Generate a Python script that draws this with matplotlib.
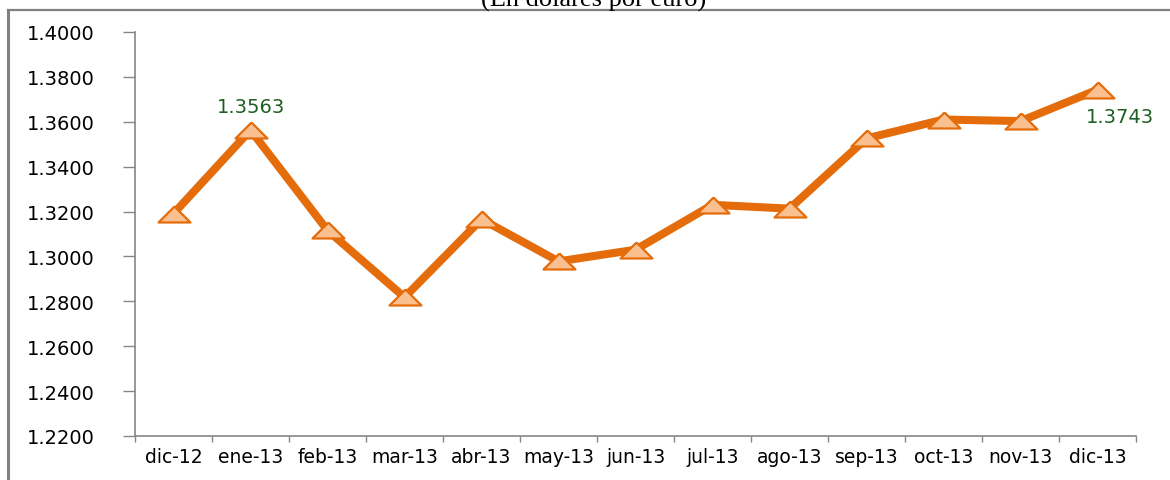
import matplotlib
matplotlib.use('Agg')
import matplotlib.pyplot as plt
from matplotlib.lines import Line2D
from matplotlib.ticker import FixedLocator, MultipleLocator

# datos: tipo de cambio dolares por euro
months = ['dic-12', 'ene-13', 'feb-13', 'mar-13', 'abr-13', 'may-13', 'jun-13',
          'jul-13', 'ago-13', 'sep-13', 'oct-13', 'nov-13', 'dic-13']
rates = [1.3191, 1.3563, 1.3116, 1.2818, 1.3166, 1.2978, 1.3030,
         1.3230, 1.3213, 1.3526, 1.3610, 1.3603, 1.3743]
shown_labels = {1: '1.3563', 12: '1.3743'}

ORANGE = '#E46C0A'
LIGHT = '#FAC090'
GREEN = '#1F5E22'
GRAY = '#868686'

fig = plt.figure(figsize=(11.7, 4.81), dpi=100)
ax = fig.add_axes([0.1154, 0.0915, 0.8556, 0.8399])

x = list(range(len(months)))
tri = [(0, 1), (-2, -1), (2, -1), (0, 1)]
ax.plot(x, rates, color=ORANGE, lw=5.8, solid_joinstyle='miter', zorder=2)
ax.plot(x, rates, ls='none', marker=tri, ms=23, mfc=LIGHT, mec=ORANGE,
        mew=1.6, zorder=3)

ax.annotate(shown_labels[1], (1, rates[1]), xytext=(0, 17), textcoords='offset points',
            ha='center', va='center', color=GREEN, fontsize=14)
ax.annotate(shown_labels[12], (12, rates[12]), xytext=(16, -19), textcoords='offset points',
            ha='center', va='center', color=GREEN, fontsize=14)

ax.set_xlim(-0.5, len(months) - 0.5)
ax.set_ylim(1.22, 1.40)
ax.yaxis.set_major_locator(MultipleLocator(0.02))
ax.yaxis.set_major_formatter(matplotlib.ticker.FormatStrFormatter('%.4f'))

ax.set_xticks(x)
ax.set_xticklabels(months)
ax.xaxis.set_minor_locator(FixedLocator([i - 0.5 for i in range(len(months) + 1)]))
ax.tick_params(axis='x', which='major', length=0, pad=8, labelsize=13.5)
ax.tick_params(axis='x', which='minor', length=4, width=1, color=GRAY)
ax.tick_params(axis='y', length=9, width=1, color=GRAY, pad=20, labelsize=14)

for s in ['top', 'right']:
    ax.spines[s].set_visible(False)
for s in ['left', 'bottom']:
    ax.spines[s].set_color(GRAY)
    ax.spines[s].set_linewidth(1.2)

# marco del grafico
W, H = 1170, 481
fig.add_artist(Line2D([8 / W, 8 / W], [0, 1 - 11 / H], color='#808080', lw=2.2,
                      transform=fig.transFigure))
fig.add_artist(Line2D([8 / W, 1], [1 - 11 / H, 1 - 11 / H], color='#808080', lw=1.6,
                      transform=fig.transFigure))

# titulo recortado en el borde superior, como en el original
fig.text(594 / W, 1 - 7 / H, '(En dólares por euro)', ha='center', va='baseline',
         fontsize=19, family='Liberation Serif')

fig.savefig('out.png', dpi=100)
